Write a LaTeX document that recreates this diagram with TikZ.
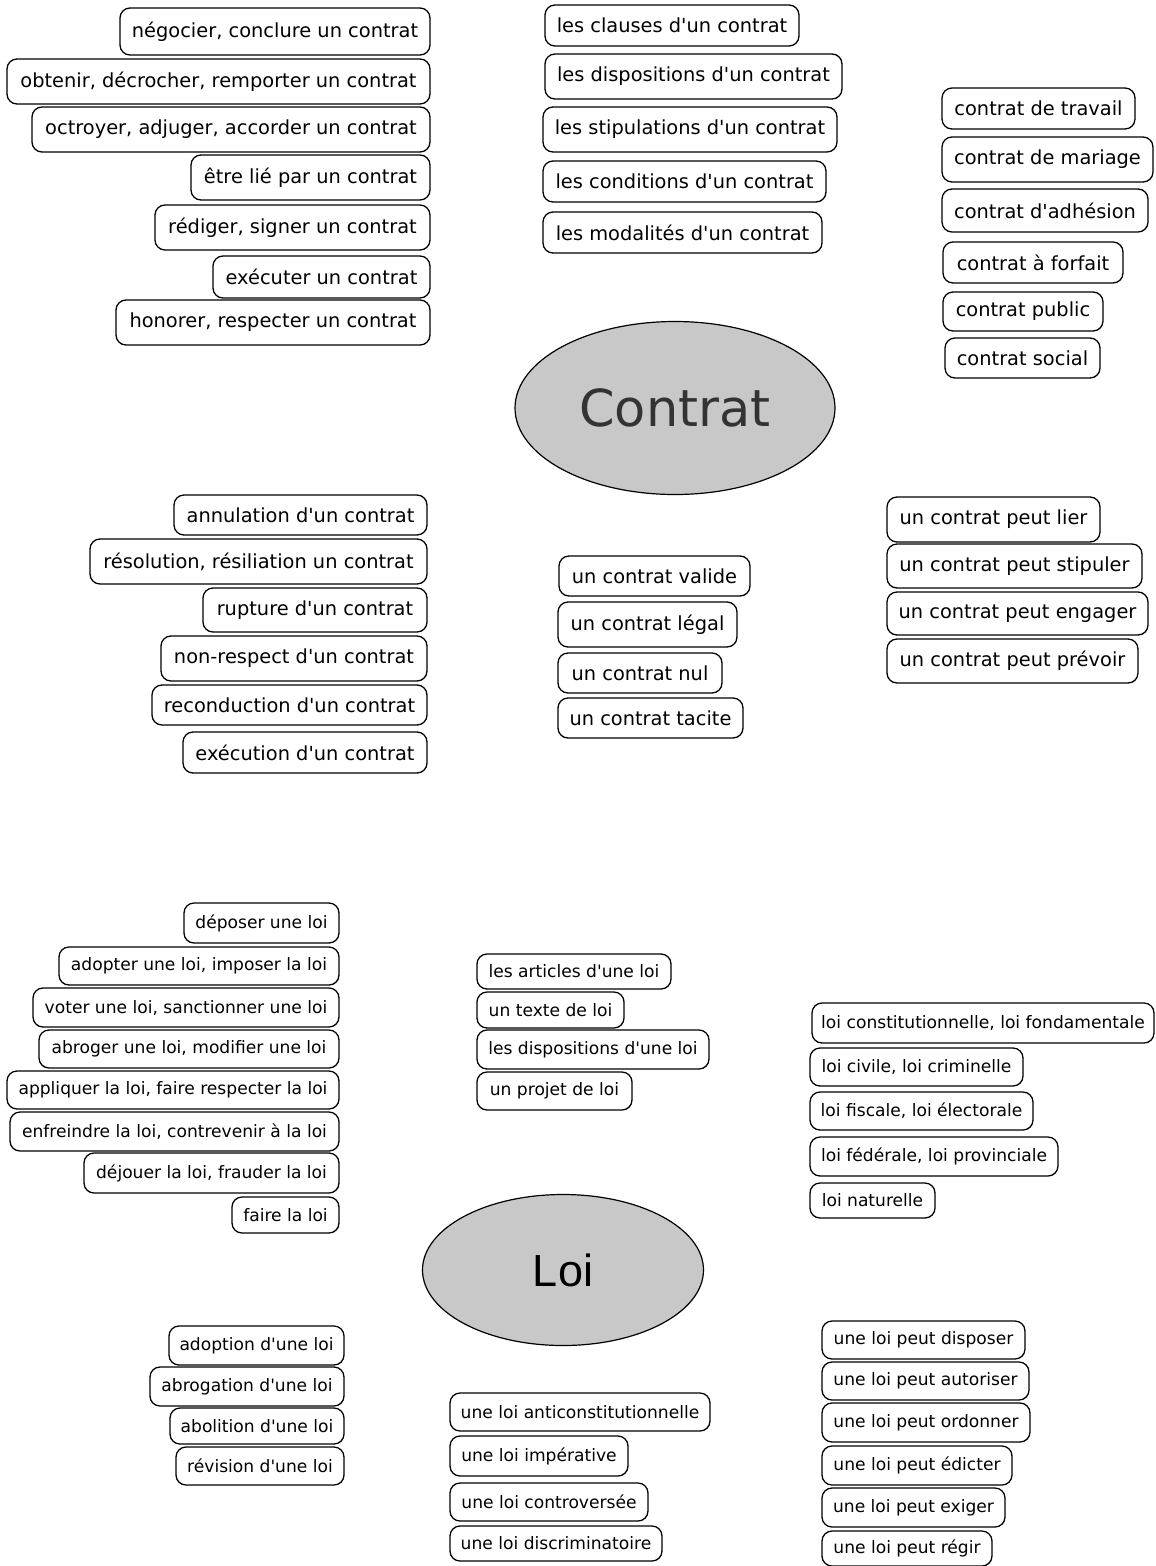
\documentclass[tikz,border=0pt]{standalone}
\usepackage{fontspec}
\setmainfont{DejaVu Sans}[Ligatures=TeXOff]
\newfontfamily\arialf{Liberation Sans}
\usetikzlibrary{shapes.geometric}
\definecolor{ellfill}{RGB}{200,200,200}
\definecolor{ctext}{RGB}{51,51,51}
\tikzset{
  box/.style={draw=black, line width=1.3pt, rounded corners=10pt, inner sep=0pt, fill=white, text=black},
  bigbox/.style={box, font=\fontsize{19.4}{22}\selectfont},
  smallbox/.style={box, font=\fontsize{17.1}{20}\selectfont},
  hub/.style={ellipse, draw=black, line width=1.2pt, fill=ellfill, inner sep=0pt}
}
\newcommand\bx[7]{\node[#1, minimum width={#5-#3}, minimum height={#6-#4}] (#2) at ({(#3+#5)/2},{(#4+#6)/2}) {#7};}
\begin{document}
\begin{tikzpicture}[x=1pt,y=-1pt]
\useasboundingbox (0,0) rectangle (1156,1566);
% ---------- Contrat ----------
\node[hub, minimum width=320pt, minimum height=173pt, font=\fontsize{51}{56}\selectfont, text=ctext] (contrat) at (675,408) {Contrat};
% verbs
\bx{bigbox}{v1}{120}{8}{430}{55}{négocier, conclure un contrat}
\bx{bigbox}{v2}{7}{59}{430}{104}{obtenir, décrocher, remporter un contrat}
\bx{bigbox}{v3}{32}{107}{430}{152}{octroyer, adjuger, accorder un contrat}
\bx{bigbox}{v4}{191}{155}{430}{200}{être lié par un contrat}
\bx{bigbox}{v5}{155}{205}{430}{250}{rédiger, signer un contrat}
\bx{bigbox}{v6}{213}{256}{430}{298}{exécuter un contrat}
\bx{bigbox}{v7}{116}{300}{430}{345}{honorer, respecter un contrat}
% parts
\bx{bigbox}{p1}{545}{5}{799}{46}{les clauses d'un contrat}
\bx{bigbox}{p2}{545}{54}{842}{99}{les dispositions d'un contrat}
\bx{bigbox}{p3}{543}{107}{837}{152}{les stipulations d'un contrat}
\bx{bigbox}{p4}{543}{161}{826}{202}{les conditions d'un contrat}
\bx{bigbox}{p5}{543}{212}{822}{253}{les modalités d'un contrat}
% types
\bx{bigbox}{t1}{942}{88}{1135}{129}{contrat de travail}
\bx{bigbox}{t2}{942}{137}{1153}{182}{contrat de mariage}
\bx{bigbox}{t3}{942}{189}{1148}{232}{contrat d'adhésion}
\bx{bigbox}{t4}{943}{242}{1123}{283}{contrat à forfait}
\bx{bigbox}{t5}{943}{292}{1103}{331}{contrat public}
\bx{bigbox}{t6}{945}{338}{1100}{378}{contrat social}
% nouns
\bx{bigbox}{n1}{174}{495}{427}{535}{annulation d'un contrat}
\bx{bigbox}{n2}{90}{539}{427}{584}{résolution, résiliation un contrat}
\bx{bigbox}{n3}{203}{588}{427}{632}{rupture d'un contrat}
\bx{bigbox}{n4}{161}{636}{427}{681}{non-respect d'un contrat}
\bx{bigbox}{n5}{152}{685}{427}{725}{reconduction d'un contrat}
\bx{bigbox}{n6}{183}{732}{427}{773}{exécution d'un contrat}
% adjectives
\bx{bigbox}{a1}{559}{556}{750}{596}{un contrat valide}
\bx{bigbox}{a2}{558}{602}{737}{647}{un contrat légal}
\bx{bigbox}{a3}{558}{653}{722}{693}{un contrat nul}
\bx{bigbox}{a4}{558}{698}{743}{738}{un contrat tacite}
% verbs subject
\bx{bigbox}{s1}{887}{497}{1100}{542}{un contrat peut lier}
\bx{bigbox}{s2}{887}{544}{1142}{588}{un contrat peut stipuler}
\bx{bigbox}{s3}{887}{592}{1148}{635}{un contrat peut engager}
\bx{bigbox}{s4}{887}{639}{1138}{683}{un contrat peut prévoir}
% ---------- Loi ----------
\node[hub, minimum width=281pt, minimum height=151pt, font=\arialf\fontsize{45}{50}\selectfont, text=black] (loi) at (563,1270) {Loi};
\bx{smallbox}{lv1}{184}{903}{339}{943}{déposer une loi}
\bx{smallbox}{lv2}{59}{947}{339}{985}{adopter une loi, imposer la loi}
\bx{smallbox}{lv3}{33}{988}{339}{1027}{voter une loi, sanctionner une loi}
\bx{smallbox}{lv4}{39}{1030}{339}{1068}{abroger une loi, modifier une loi}
\bx{smallbox}{lv5}{7}{1071}{339}{1109}{appliquer la loi, faire respecter la loi}
\bx{smallbox}{lv6}{10}{1112}{339}{1151}{enfreindre la loi, contrevenir à la loi}
\bx{smallbox}{lv7}{84}{1153}{339}{1193}{déjouer la loi, frauder la loi}
\bx{smallbox}{lv8}{232}{1197}{339}{1233}{faire la loi}
% parts
\bx{smallbox}{lp1}{477}{954}{671}{989}{les articles d'une loi}
\bx{smallbox}{lp2}{477}{992}{624}{1028}{un texte de loi}
\bx{smallbox}{lp3}{477}{1030}{709}{1069}{les dispositions d'une loi}
\bx{smallbox}{lp4}{477}{1072}{632}{1110}{un projet de loi}
% types
\bx{smallbox}{lt1}{812}{1003}{1154}{1043}{loi constitutionnelle, loi fondamentale}
\bx{smallbox}{lt2}{810}{1048}{1023}{1086}{loi civile, loi criminelle}
\bx{smallbox}{lt3}{810}{1092}{1033}{1130}{loi fiscale, loi électorale}
\bx{smallbox}{lt4}{810}{1137}{1058}{1176}{loi fédérale, loi provinciale}
\bx{smallbox}{lt5}{810}{1183}{935}{1218}{loi naturelle}
% nouns
\bx{smallbox}{ln1}{169}{1326}{344}{1365}{adoption d'une loi}
\bx{smallbox}{ln2}{150}{1367}{344}{1406}{abrogation d'une loi}
\bx{smallbox}{ln3}{170}{1408}{344}{1444}{abolition d'une loi}
\bx{smallbox}{ln4}{176}{1447}{344}{1485}{révision d'une loi}
% adjectives
\bx{smallbox}{la1}{450}{1393}{710}{1431}{une loi anticonstitutionnelle}
\bx{smallbox}{la2}{450}{1436}{628}{1476}{une loi impérative}
\bx{smallbox}{la3}{450}{1483}{648}{1521}{une loi controversée}
\bx{smallbox}{la4}{450}{1526}{662}{1561}{une loi discriminatoire}
% verbs subject
\bx{smallbox}{ls1}{822}{1321}{1025}{1359}{une loi peut disposer}
\bx{smallbox}{ls2}{822}{1362}{1029}{1400}{une loi peut autoriser}
\bx{smallbox}{ls3}{822}{1403}{1030}{1442}{une loi peut ordonner}
\bx{smallbox}{ls4}{822}{1446}{1012}{1485}{une loi peut édicter}
\bx{smallbox}{ls5}{822}{1488}{1005}{1527}{une loi peut exiger}
\bx{smallbox}{ls6}{822}{1531}{992}{1566}{une loi peut régir}
\end{tikzpicture}
\end{document}
